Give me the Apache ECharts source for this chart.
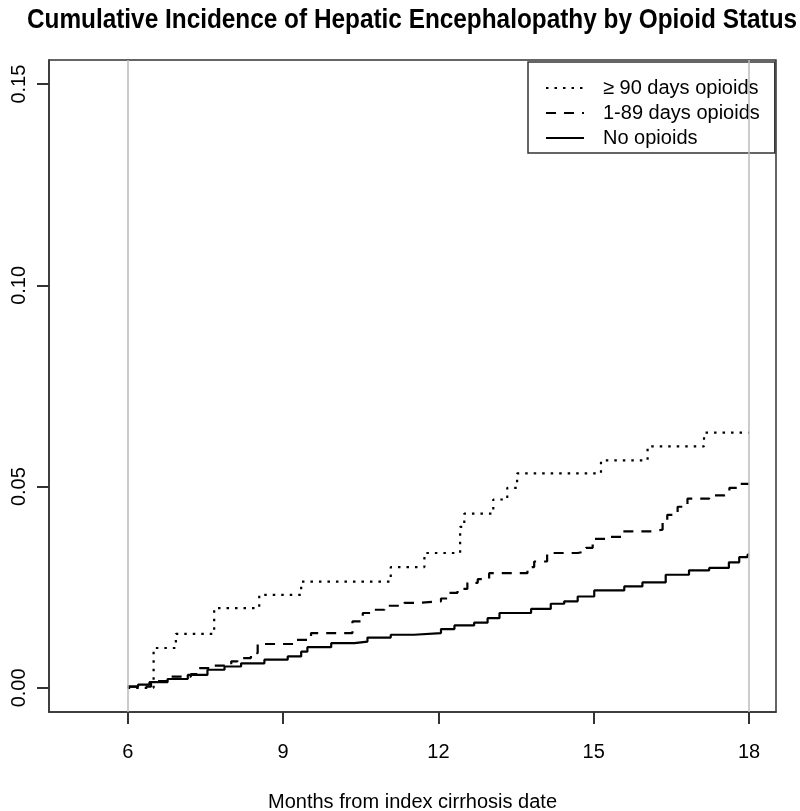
<!DOCTYPE html>
<html>
<head>
<meta charset="utf-8">
<title>Cumulative Incidence of Hepatic Encephalopathy by Opioid Status</title>
<script src="https://cdn.jsdelivr.net/npm/echarts@6/dist/echarts.min.js"></script>
<style>
    html, body { margin: 0; padding: 0; background: #fff; }
    #main { width: 800px; height: 811px; }
</style>
</head>
<body>
<div id="main"></div>
<script>
// axis ticks
var xTicks = [6, 9, 12, 15, 18];
var yTicks = [0, 0.05, 0.10, 0.15];

// >= 90 days opioids (dotted)
var months90 = [6.00, 6.50, 6.93, 7.67, 8.54, 9.35, 11.08, 11.73, 12.42, 12.50, 13.06, 13.33, 13.52, 15.14, 16.04, 17.13, 18.00];
var inc90 = [0.0000, 0.0099, 0.0134, 0.0198, 0.0231, 0.0264, 0.0300, 0.0335, 0.0400, 0.0433, 0.0468, 0.0497, 0.0533, 0.0565, 0.0600, 0.0634, 0.0634];

// 1-89 days opioids (dashed)
var months189 = [6.00, 6.45, 6.84, 7.22, 7.35, 7.67, 8.00, 8.12, 8.38, 8.51, 9.26, 9.54, 10.34, 10.54, 10.76, 10.96, 11.34, 11.57, 12.05, 12.18, 12.37, 12.56, 12.76, 12.98, 13.72, 13.85, 14.10, 14.69, 14.85, 14.98, 15.30, 15.55, 16.14, 16.33, 16.42, 16.62, 16.81, 17.23, 17.52, 17.62, 17.78, 18.00];
var inc189 = [0.0003, 0.0017, 0.0028, 0.0034, 0.0049, 0.0055, 0.0066, 0.0074, 0.0086, 0.0109, 0.0119, 0.0136, 0.0165, 0.0186, 0.0194, 0.0204, 0.0211, 0.0215, 0.0222, 0.0236, 0.0246, 0.0261, 0.0270, 0.0285, 0.0300, 0.0314, 0.0335, 0.0339, 0.0348, 0.0370, 0.0375, 0.0389, 0.0393, 0.0410, 0.0430, 0.0450, 0.0470, 0.0478, 0.0482, 0.0497, 0.0507, 0.0507];

// No opioids (solid)
var monthsNone = [6.00, 6.20, 6.42, 6.77, 7.16, 7.54, 7.87, 8.19, 8.64, 9.09, 9.35, 9.47, 9.93, 10.38, 10.63, 11.08, 11.53, 12.05, 12.31, 12.69, 12.95, 13.18, 13.79, 14.17, 14.43, 14.69, 15.01, 15.59, 15.94, 16.39, 16.84, 17.23, 17.61, 17.81, 17.97, 18.00];
var incNone = [0.0003, 0.0008, 0.0014, 0.0022, 0.0032, 0.0045, 0.0053, 0.0061, 0.0070, 0.0078, 0.0090, 0.0101, 0.0111, 0.0115, 0.0125, 0.0132, 0.0136, 0.0146, 0.0155, 0.0162, 0.0173, 0.0186, 0.0196, 0.0209, 0.0215, 0.0227, 0.0242, 0.0252, 0.0262, 0.0281, 0.0292, 0.0298, 0.0312, 0.0325, 0.0331, 0.0331];

// grey vertical reference lines
var refLines = [6, 18];

function pairs(xs, ys) {
    var out = [];
    for (var i = 0; i < xs.length; i++) {
        out.push([xs[i], ys[i]]);
    }
    return out;
}

var fontFamily = '"Liberation Sans", Arial, Helvetica, sans-serif';

var myChart = echarts.init(document.getElementById('main'));

var option = {
    backgroundColor: '#fff',
    animation: false,
    textStyle: {fontFamily: fontFamily},
    graphic: [{
        type: 'text',
        x: 412,
        y: 20,
        scaleX: 0.87,
        style: {
            text: 'Cumulative Incidence of Hepatic Encephalopathy by Opioid Status',
            font: 'bold 28px ' + fontFamily,
            textAlign: 'center',
            textVerticalAlign: 'middle',
            fill: '#000'
        }
    }],
    grid: {
        left: 49, right: 24, top: 60, bottom: 99,
        show: true,
        borderColor: '#333',
        borderWidth: 1.5,
        outerBoundsMode: 'none'   // keep the grid where it is set (v6 would shrink it)
    },
    legend: {
        orient: 'vertical',
        left: 528,
        top: 62,
        padding: [16, 15, 5, 17],
        itemWidth: 38,
        itemHeight: 20,
        itemGap: 5,
        borderColor: '#333',
        borderWidth: 1.5,
        selectedMode: false,
        // hide the marker symbol, keep only the line sample
        itemStyle: {color: 'transparent', borderColor: 'transparent', borderWidth: 0, opacity: 0},
        lineStyle: {color: '#000'},
        textStyle: {fontSize: 20, color: '#000', padding: [0, 0, 0, 14], fontFamily: fontFamily},
        data: ['\u2265 90 days opioids', '1-89 days opioids', 'No opioids']
    },
    xAxis: {
        type: 'value',
        min: 4.48,
        max: 18.52,
        name: 'Months from index cirrhosis date',
        nameLocation: 'middle',
        nameGap: 80,
        nameTextStyle: {fontSize: 20, color: '#000'},
        axisLine: {show: true, onZero: false, lineStyle: {color: '#333', width: 1.5}},
        splitLine: {show: false},
        axisTick: {
            show: true, length: 12, customValues: xTicks,
            lineStyle: {color: '#333', width: 2}
        },
        axisLabel: {
            customValues: xTicks,
            fontSize: 20, color: '#000', margin: 30
        }
    },
    yAxis: {
        type: 'value',
        min: -0.006,
        max: 0.156,
        axisLine: {show: true, onZero: false, lineStyle: {color: '#333', width: 1.5}},
        splitLine: {show: false},
        axisTick: {
            show: true, length: 12, customValues: yTicks,
            lineStyle: {color: '#333', width: 2}
        },
        axisLabel: {
            customValues: yTicks,
            rotate: 90,
            fontSize: 20, color: '#000', margin: 20,
            formatter: function (v) { return v.toFixed(2); }
        }
    },
    series: [
        {
            name: 'ref',
            type: 'line',
            data: [],
            silent: true,
            markLine: {
                silent: true,
                symbol: 'none',
                label: {show: false},
                lineStyle: {color: '#bbb', width: 1.5, type: 'solid'},
                data: refLines.map(function (v) { return {xAxis: v}; })
            }
        },
        {
            name: '\u2265 90 days opioids',
            type: 'line',
            step: 'end',
            symbol: 'none',
            showSymbol: false,
            lineStyle: {color: '#000', width: 2.2, type: [2.5, 6], cap: 'butt'},
            itemStyle: {color: '#000'},
            data: pairs(months90, inc90)
        },
        {
            name: '1-89 days opioids',
            type: 'line',
            step: 'end',
            symbol: 'none',
            showSymbol: false,
            lineStyle: {color: '#000', width: 2.2, type: [10, 8], cap: 'butt'},
            itemStyle: {color: '#000'},
            data: pairs(months189, inc189)
        },
        {
            name: 'No opioids',
            type: 'line',
            step: 'end',
            symbol: 'none',
            showSymbol: false,
            lineStyle: {color: '#000', width: 2.2, type: 'solid'},
            itemStyle: {color: '#000'},
            data: pairs(monthsNone, incNone)
        }
    ]
};

myChart.setOption(option);
</script>
</body>
</html>
